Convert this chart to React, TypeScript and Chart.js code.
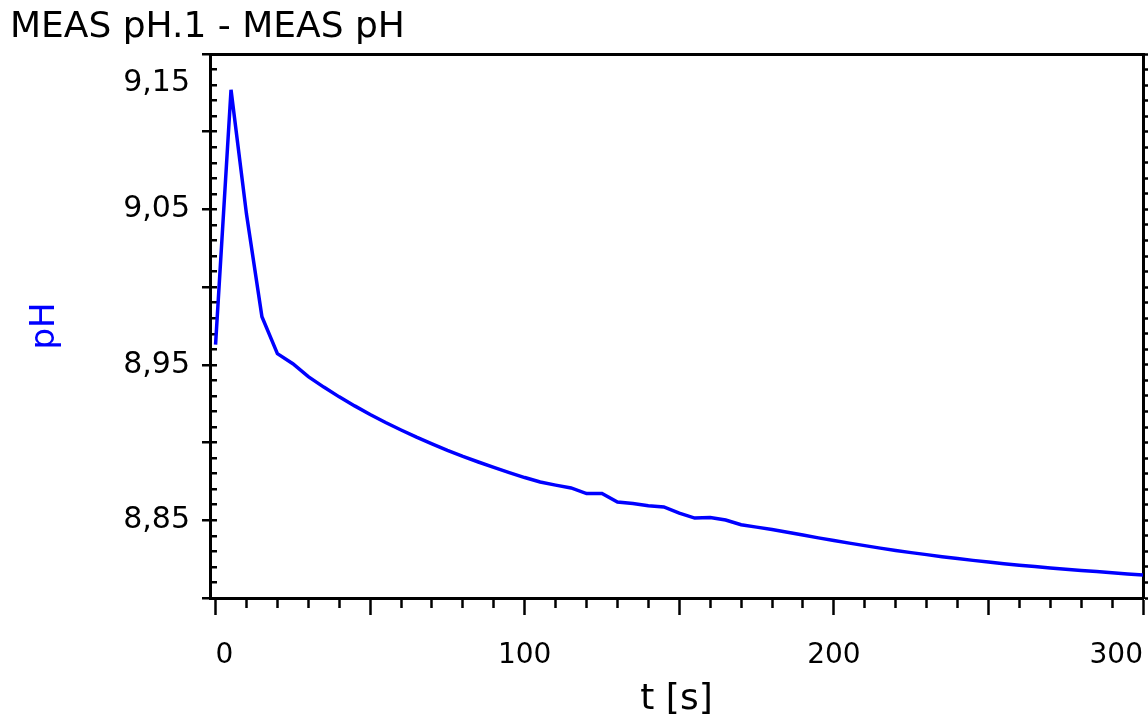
import { useEffect, useRef } from 'react';
import { Chart, registerables } from 'chart.js';

Chart.register(...registerables);

// ---- data ----
const TIME_S = [
  0, 5, 10, 15, 20, 25, 30, 35, 40, 45, 50, 55, 60, 65, 70, 75, 80, 85, 90, 95,
  100, 105, 110, 115, 120, 125, 130, 135, 140, 145, 150, 155, 160, 165, 170, 175,
  180, 185, 190, 195, 200, 205, 210, 215, 220, 225, 230, 235, 240, 245, 250, 255,
  260, 265, 270, 275, 280, 285, 290, 295, 300,
];
const PH_VALUES = [
  8.963, 9.127, 9.047, 8.981, 8.9572, 8.9507, 8.9424, 8.9357, 8.9294, 8.9236,
  8.9181, 8.9129, 8.9081, 8.9035, 8.8992, 8.895, 8.8911, 8.8875, 8.884, 8.8807,
  8.8775, 8.8746, 8.8726, 8.8708, 8.8672, 8.8672, 8.8618, 8.8608, 8.8594, 8.8586,
  8.8546, 8.8514, 8.8518, 8.8502, 8.8471, 8.8456, 8.8441, 8.8423, 8.8405, 8.8387,
  8.837, 8.8353, 8.8337, 8.8321, 8.8306, 8.8292, 8.8279, 8.8266, 8.8254, 8.8242,
  8.8231, 8.8221, 8.8211, 8.8202, 8.8193, 8.8185, 8.8177, 8.817, 8.8162, 8.8155,
  8.8148,
];

const Y_MIN = 8.8;
const Y_MAX = 9.15;
const X_MIN = -1.8;
const X_MAX = 300;

const Y_TICKS = [
  8.8, 8.81, 8.82, 8.83, 8.84, 8.85, 8.86, 8.87, 8.88, 8.89, 8.9, 8.91, 8.92,
  8.93, 8.94, 8.95, 8.96, 8.97, 8.98, 8.99, 9.0, 9.01, 9.02, 9.03, 9.04, 9.05,
  9.06, 9.07, 9.08, 9.09, 9.1, 9.11, 9.12, 9.13, 9.14, 9.15,
];
const Y_MAJOR = [8.8, 8.85, 8.9, 8.95, 9.0, 9.05, 9.1, 9.15];
const Y_LABELED = ['8.85', '8.95', '9.05', '9.15'];

const X_TICKS = [
  0, 10, 20, 30, 40, 50, 60, 70, 80, 90, 100, 110, 120, 130, 140, 150, 160, 170,
  180, 190, 200, 210, 220, 230, 240, 250, 260, 270, 280, 290, 300,
];
const X_MAJOR = [0, 50, 100, 150, 200, 250, 300];
const X_LABELED = [0, 100, 200, 300];

const FONT = 'DejaVu Sans';

const isYMajor = (v: number) => Y_MAJOR.some((m) => Math.abs(m - v) < 1e-6);
const isXMajor = (v: number) => X_MAJOR.some((m) => Math.abs(m - v) < 1e-6);

export default function App() {
  const ref = useRef<HTMLCanvasElement | null>(null);

  useEffect(() => {
    document.body.style.margin = '0';
    document.body.style.overflow = 'hidden';
    const canvas = ref.current;
    if (!canvas) return;

    const points = TIME_S.map((t, i) => ({ x: t, y: PH_VALUES[i] }));

    const chart = new Chart(canvas, {
      type: 'line',
      data: {
        datasets: [
          {
            label: 'MEAS pH',
            data: points,
            borderColor: '#0000ff',
            backgroundColor: '#0000ff',
            borderWidth: 3.5,
            pointRadius: 0,
            tension: 0,
            fill: false,
            xAxisID: 'x',
            yAxisID: 'y',
          },
        ],
      },
      options: {
        responsive: false,
        animation: false,
        events: [],
        layout: { padding: { left: 10, right: 0, top: 0, bottom: 0 } },
        plugins: {
          legend: { display: false },
          tooltip: { enabled: false },
          title: {
            display: true,
            text: 'MEAS pH.1 - MEAS pH',
            align: 'start',
            color: '#000',
            font: { family: FONT, size: 36, weight: 'normal', lineHeight: 1.2 },
            padding: { top: 6.4, bottom: 4.4 },
          },
        },
        scales: {
          x: {
            type: 'linear',
            position: 'bottom',
            min: X_MIN,
            max: X_MAX,
            afterBuildTicks: (s: any) => {
              s.ticks = X_TICKS.map((v) => ({ value: v }));
            },
            afterFit: (s: any) => {
              s.height = 126;
            },
            ticks: {
              autoSkip: false,
              maxRotation: 0,
              minRotation: 0,
              align: 'inner',
              padding: 0,
              color: '#000',
              font: { family: FONT, size: 28, lineHeight: 1.0 },
              callback: (v: any) => (X_LABELED.includes(Number(v)) ? String(v) : ''),
            },
            grid: {
              display: true,
              drawOnChartArea: false,
              drawTicks: true,
              tickLength: 44,
              tickColor: '#000',
              tickWidth: 2.5,
              tickBorderDash: (ctx: any) =>
                ctx.tick && isXMajor(ctx.tick.value) ? [15, 1000] : [8, 1000],
            },
            border: { display: true, color: '#000', width: 3 },
            title: {
              display: true,
              text: 't [s]',
              color: '#000',
              font: { family: FONT, size: 36, lineHeight: 1.0 },
              padding: { top: 12, bottom: 6 },
            },
          },
          x2: {
            type: 'linear',
            position: 'top',
            display: true,
            min: X_MIN,
            max: X_MAX,
            ticks: { display: false },
            grid: { display: false, drawTicks: false, drawOnChartArea: false },
            border: { display: true, color: '#000', width: 3 },
          },
          y: {
            type: 'linear',
            position: 'left',
            min: Y_MIN,
            max: Y_MAX,
            afterBuildTicks: (s: any) => {
              s.ticks = Y_TICKS.map((v) => ({ value: v }));
            },
            afterFit: (s: any) => {
              s.width = 200;
            },
            ticks: {
              autoSkip: false,
              padding: 0,
              color: '#000',
              font: { family: FONT, size: 30, lineHeight: 0.97 },
              callback: (v: any) => {
                const key = Number(v).toFixed(2);
                if (!Y_LABELED.includes(key)) return '';
                const txt = key.replace('.', ',');
                return key === '9.15' ? ['', '', txt] : txt;
              },
            },
            grid: {
              display: true,
              drawOnChartArea: true,
              drawTicks: true,
              tickLength: 20,
              color: '#000',
              lineWidth: 2.5,
              tickWidth: 2.5,
              tickColor: (ctx: any) =>
                ctx.tick && isYMajor(ctx.tick.value) ? '#000' : 'rgba(0,0,0,0)',
              tickBorderDash: [0, 12, 10, 1000],
            },
            border: { display: true, color: '#000', width: 3, dash: [5, 5000] },
            title: {
              display: true,
              text: 'pH',
              color: '#0000ff',
              font: { family: FONT, size: 34, lineHeight: 1.2 },
              padding: { top: 15, bottom: 0 },
            },
          },
          y2: {
            type: 'linear',
            position: 'right',
            min: Y_MIN,
            max: Y_MAX,
            afterBuildTicks: (s: any) => {
              s.ticks = Y_TICKS.map((v) => ({ value: v }));
            },
            ticks: { display: false },
            grid: {
              display: true,
              drawOnChartArea: false,
              drawTicks: true,
              tickLength: 5,
              tickColor: '#000',
              tickWidth: 2.5,
            },
            border: { display: true, color: '#000', width: 3 },
          },
        },
      } as any,
    });

    return () => chart.destroy();
  }, []);

  return (
    <canvas
      ref={ref}
      width={1148}
      height={724}
      style={{ display: 'block', width: 1148, height: 724 }}
    />
  );
}
